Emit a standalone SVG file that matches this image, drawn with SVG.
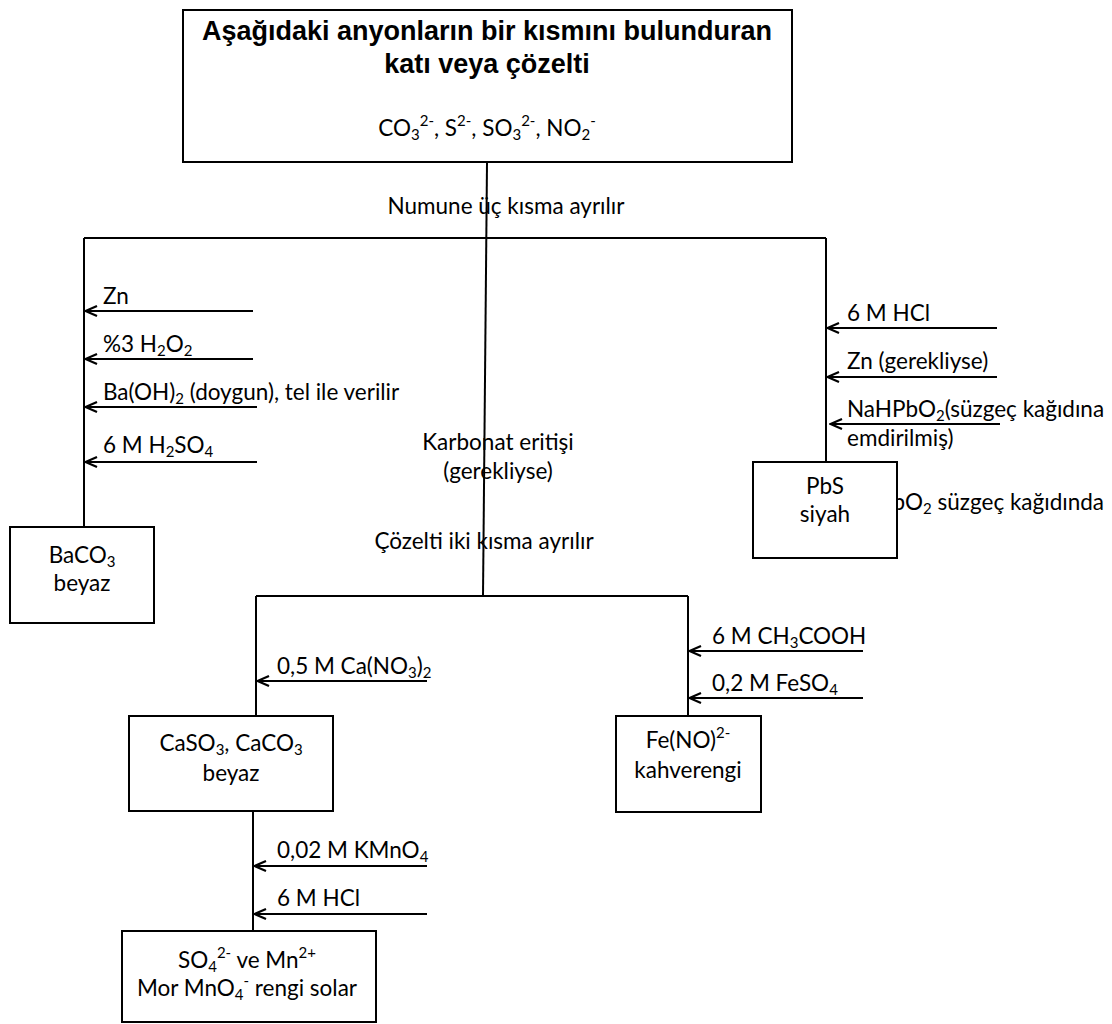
<svg xmlns="http://www.w3.org/2000/svg" width="1112" height="1024" viewBox="0 0 1112 1024">
<style>
.t{font-family:Lato,"Open Sans","Noto Sans",sans-serif;font-size:22.5px;fill:#000}
.m{text-anchor:middle}
.e{text-anchor:end}
.b{font-family:"Liberation Sans",Arial,sans-serif;font-weight:bold;font-size:27px;fill:#000;text-anchor:middle}
.s{font-size:15px}
.ln{stroke:#000;stroke-width:2;fill:none}
.ar{stroke:#000;stroke-width:2;fill:none;marker-end:url(#ah)}
.box{fill:#fff;stroke:#000;stroke-width:2}
</style>
<defs>
<marker id="ah" viewBox="0 0 14 12" refX="13" refY="6" markerWidth="14" markerHeight="12" markerUnits="userSpaceOnUse" orient="auto">
<path d="M1,1 L12.5,6 L1,11" fill="none" stroke="#000" stroke-width="2.2"/>
</marker>
</defs>
<rect width="1112" height="1024" fill="#fff"/>

<g id="connectors">
<line class="ln" x1="487" y1="163" x2="483" y2="596"/>
<line class="ln" x1="84" y1="238" x2="826" y2="238"/>
<line class="ln" x1="84" y1="238" x2="84" y2="527"/>
<line class="ln" x1="826" y1="238" x2="826" y2="462"/>
<line class="ln" x1="256" y1="596" x2="688" y2="596"/>
<line class="ln" x1="256" y1="596" x2="256" y2="716"/>
<line class="ln" x1="688" y1="596" x2="688" y2="716"/>
<line class="ln" x1="253" y1="811" x2="253" y2="931"/>
<line class="ar" x1="253" y1="311" x2="85" y2="311"/>
<line class="ar" x1="253" y1="359" x2="85" y2="359"/>
<line class="ar" x1="257" y1="407" x2="85" y2="407"/>
<line class="ar" x1="257" y1="462" x2="85" y2="462"/>
<line class="ar" x1="997" y1="328" x2="827" y2="328"/>
<line class="ar" x1="997" y1="377" x2="827" y2="377"/>
<line class="ar" x1="1000" y1="424" x2="830" y2="424"/>
<line class="ar" x1="427" y1="681" x2="257" y2="681"/>
<line class="ar" x1="863" y1="651" x2="689" y2="651"/>
<line class="ar" x1="863" y1="698" x2="689" y2="698"/>
<line class="ar" x1="427" y1="866" x2="254" y2="866"/>
<line class="ar" x1="427" y1="914" x2="254" y2="914"/>
</g>

<g id="labels">
<text class="t m" x="506" y="214">Numune üç kısma ayrılır</text>
<text class="t" x="103" y="304">Zn</text>
<text class="t" x="103" y="352">%3 H<tspan class="s" dy="4">2</tspan><tspan dy="-4">O</tspan><tspan class="s" dy="4">2</tspan></text>
<text class="t" x="103" y="400">Ba(OH)<tspan class="s" dy="4">2</tspan><tspan dy="-4"> (doygun), tel ile verilir</tspan></text>
<text class="t" x="103" y="453">6 M H<tspan class="s" dy="4">2</tspan><tspan dy="-4">SO</tspan><tspan class="s" dy="4">4</tspan></text>
<text class="t" x="847" y="321">6 M HCl</text>
<text class="t" x="847" y="369">Zn (gerekliyse)</text>
<text class="t" x="847" y="417">NaHPbO<tspan class="s" dy="4">2</tspan><tspan dy="-4">(süzgeç kağıdına</tspan></text>
<text class="t" x="847" y="446">emdirilmiş)</text>
<text class="t e" x="1104" y="510">PbO<tspan class="s" dy="4">2</tspan><tspan dy="-4"> süzgeç kağıdında</tspan></text>
<text class="t m" x="498" y="450">Karbonat eritişi</text>
<text class="t m" x="498" y="479">(gerekliyse)</text>
<text class="t m" x="484" y="549">Çözelti iki kısma ayrılır</text>
<text class="t" x="277" y="674">0,5 M Ca(NO<tspan class="s" dy="4">3</tspan><tspan dy="-4">)</tspan><tspan class="s" dy="4">2</tspan></text>
<text class="t" x="712" y="644">6 M CH<tspan class="s" dy="4">3</tspan><tspan dy="-4">COOH</tspan></text>
<text class="t" x="712" y="691">0,2 M FeSO<tspan class="s" dy="4">4</tspan></text>
<text class="t" x="277" y="858">0,02 M KMnO<tspan class="s" dy="4">4</tspan></text>
<text class="t" x="277" y="906">6 M HCl</text>
</g>

<g id="node-start">
<rect class="box" x="183" y="10" width="609" height="152"/>
<text class="b" x="487" y="40">Aşağıdaki anyonların bir kısmını bulunduran</text>
<text class="b" x="487" y="73">katı veya çözelti</text>
<text class="t m" x="487" y="136">CO<tspan class="s" dy="4">3</tspan><tspan class="s" dy="-14">2-</tspan><tspan dy="10">, S</tspan><tspan class="s" dy="-10">2-</tspan><tspan dy="10">, SO</tspan><tspan class="s" dy="4">3</tspan><tspan class="s" dy="-14">2-</tspan><tspan dy="10">, NO</tspan><tspan class="s" dy="4">2</tspan><tspan class="s" dy="-14">-</tspan></text>
</g>

<g id="node-baco3">
<rect class="box" x="10" y="527" width="144" height="96"/>
<text class="t m" x="82" y="563">BaCO<tspan class="s" dy="4">3</tspan></text>
<text class="t m" x="82" y="591">beyaz</text>
</g>

<g id="node-pbs">
<rect class="box" x="753" y="462" width="144" height="96"/>
<text class="t m" x="825" y="494">PbS</text>
<text class="t m" x="825" y="522">siyah</text>
</g>

<g id="node-caso3">
<rect class="box" x="129" y="716" width="204" height="95"/>
<text class="t m" x="231" y="751">CaSO<tspan class="s" dy="4">3</tspan><tspan dy="-4">, CaCO</tspan><tspan class="s" dy="4">3</tspan></text>
<text class="t m" x="231" y="781">beyaz</text>
</g>

<g id="node-feno">
<rect class="box" x="616" y="716" width="145" height="96"/>
<text class="t m" x="688" y="748">Fe(NO)<tspan class="s" dy="-10">2-</tspan></text>
<text class="t m" x="688" y="778">kahverengi</text>
</g>

<g id="node-so4">
<rect class="box" x="122" y="931" width="254" height="91"/>
<text class="t m" x="247" y="968">SO<tspan class="s" dy="4">4</tspan><tspan class="s" dy="-14">2-</tspan><tspan dy="10"> ve Mn</tspan><tspan class="s" dy="-10">2+</tspan></text>
<text class="t m" x="247" y="996">Mor MnO<tspan class="s" dy="4">4</tspan><tspan class="s" dy="-14">-</tspan><tspan dy="10"> rengi solar</tspan></text>
</g>
</svg>
